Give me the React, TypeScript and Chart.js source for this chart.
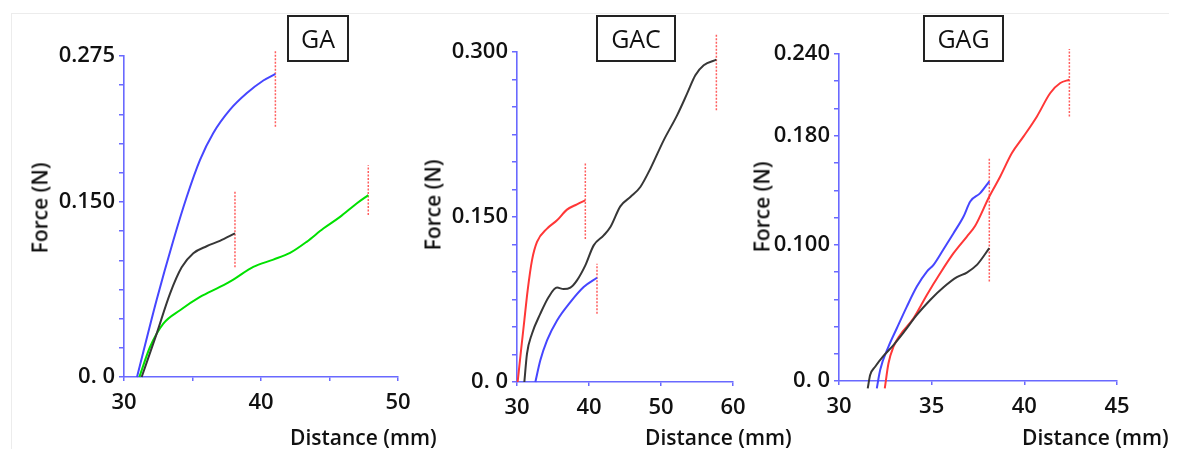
import React, { useEffect, useRef } from "react";
import { Chart, registerables } from "chart.js";
Chart.register(...registerables);

const W = 1178;
const H = 449;
const FONT = "'Open Sans', sans-serif";

// ---------- GA panel data ----------
const GA_BLUE_X = [30.95, 32.38, 33.6, 34.57, 35.55, 36.52, 37.74, 38.95, 40.17, 41.05];
const GA_BLUE_Y = [0, 0.066, 0.117, 0.154, 0.186, 0.209, 0.229, 0.243, 0.254, 0.2596];
const GA_BLACK_X = [31.29, 32.38, 33.36, 34.21, 35.06, 36.03, 37.0, 38.1];
const GA_BLACK_Y = [0, 0.037, 0.0715, 0.094, 0.106, 0.112, 0.1166, 0.123];
const GA_GREEN_X = [31.12, 31.9, 32.87, 34.09, 35.55, 37.0, 37.98, 39.44, 40.9, 42.12, 43.33, 44.55, 45.77, 46.98, 47.83];
const GA_GREEN_Y = [0, 0.0257, 0.0457, 0.0572, 0.0686, 0.0772, 0.0835, 0.0943, 0.1006, 0.1063, 0.1158, 0.1272, 0.1372, 0.1487, 0.1558];
const GA_BREAK_X = [41.05, 38.1, 47.83];
const GA_BREAK_LO = [0.2144, 0.094, 0.1387];
const GA_BREAK_HI = [0.28, 0.16, 0.1815];
const GA_X_LABELS = [30, 40, 50];
const GA_Y_TICKS = [0, 0.15, 0.275];
const GA_Y_TEXT = ["0. 0", "0.150", "0.275"];

// ---------- GAC panel data ----------
const GAC_RED_X = [30.09, 30.56, 31.02, 31.48, 32.08, 32.78, 34.17, 35.56, 36.94, 38.33, 39.49];
const GAC_RED_Y = [0, 0.0288, 0.056, 0.0833, 0.1106, 0.1273, 0.1394, 0.147, 0.1567, 0.1615, 0.1652];
const GAC_BLUE_X = [32.55, 33.24, 34.17, 35.56, 37.41, 39.26, 41.11];
const GAC_BLUE_Y = [0, 0.0197, 0.0379, 0.056, 0.0727, 0.0864, 0.0948];
const GAC_BLACK_X = [31.02, 31.39, 32.08, 33.24, 34.4, 35.56, 36.48, 37.41, 38.33, 39.49, 40.65, 42.04, 42.97, 44.35, 45.74, 47.13, 48.52, 50.37, 52.23, 53.62, 54.77, 55.93, 57.69];
const GAC_BLACK_Y = [0, 0.0258, 0.0439, 0.0621, 0.0773, 0.0858, 0.0845, 0.0858, 0.0924, 0.106, 0.1242, 0.1333, 0.1409, 0.1597, 0.1682, 0.1773, 0.1939, 0.2197, 0.2424, 0.2621, 0.2788, 0.2879, 0.293];
const GAC_BREAK_X = [39.49, 41.11, 57.69];
const GAC_BREAK_LO = [0.13, 0.0621, 0.247];
const GAC_BREAK_HI = [0.2, 0.1076, 0.3167];
const GAC_X_LABELS = [30, 40, 50, 60];
const GAC_Y_TICKS = [0, 0.15, 0.3];
const GAC_Y_TEXT = ["0. 0", "0.150", "0.300"];

// ---------- GAG panel data ----------
const GAG_BLACK_X = [31.55, 31.68, 31.95, 32.4, 32.94, 33.48, 34.2, 34.92, 35.64, 36.36, 36.9, 37.44, 38.11];
const GAG_BLACK_Y = [-0.0054, 0.0044, 0.0105, 0.0184, 0.0264, 0.0355, 0.0485, 0.0595, 0.0688, 0.0762, 0.0796, 0.0852, 0.0975];
const GAG_BLUE_X = [32.04, 32.22, 32.67, 33.12, 33.66, 34.2, 34.74, 35.1, 35.64, 36.18, 36.72, 37.08, 37.62, 38.11];
const GAG_BLUE_Y = [-0.0054, 0.0081, 0.0252, 0.0387, 0.0546, 0.0693, 0.0803, 0.0852, 0.0967, 0.1085, 0.1207, 0.1318, 0.1379, 0.1465];
const GAG_RED_X = [32.47, 32.67, 32.94, 33.3, 34.02, 34.74, 35.46, 36.18, 36.9, 37.35, 38.11, 38.7, 39.33, 39.96, 40.68, 41.4, 41.94, 42.43];
const GAG_RED_Y = [-0.0054, 0.013, 0.0252, 0.0338, 0.046, 0.0632, 0.0791, 0.0938, 0.106, 0.1139, 0.1354, 0.1501, 0.1673, 0.1795, 0.1942, 0.2114, 0.2187, 0.2211];
const GAG_BREAK_X = [38.11, 38.11, 42.43];
const GAG_BREAK_LO = [0.073, 0.1232, 0.1942];
const GAG_BREAK_HI = [0.1232, 0.1636, 0.2437];
const GAG_X_LABELS = [30, 35, 40, 45];
const GAG_Y_TICKS = [0, 0.1, 0.18, 0.24];
const GAG_Y_TEXT = ["0. 0", "0.100", "0.180", "0.240"];

// ---------- styles ----------
const AXIS = "rgb(105,105,255)";
const C_BLUE = "rgb(70,70,255)";
const C_BLACK = "rgb(55,55,55)";
const C_GREEN = "rgb(0,225,0)";
const C_RED = "rgb(255,55,55)";
const C_BREAK = "rgb(255,95,95)";
const YW = 100;
const XH = 40;

type Series = { x: number[]; y: number[]; color: string };
type Panel = {
  area: { left: number; top: number; right: number; bottom: number };
  xMin: number; xMax: number; xStep: number; xLabels: number[];
  yMax: number; yStep: number; yTicks: number[]; yText: string[];
  series: Series[];
  breakX: number[]; breakLo: number[]; breakHi: number[];
};

const PANELS: Panel[] = [
  {
    area: { left: 124, top: 56, right: 398, bottom: 377 },
    xMin: 30, xMax: 50, xStep: 5, xLabels: GA_X_LABELS,
    yMax: 0.275, yStep: 0.025, yTicks: GA_Y_TICKS, yText: GA_Y_TEXT,
    series: [
      { x: GA_BLUE_X, y: GA_BLUE_Y, color: C_BLUE },
      { x: GA_BLACK_X, y: GA_BLACK_Y, color: C_BLACK },
      { x: GA_GREEN_X, y: GA_GREEN_Y, color: C_GREEN },
    ],
    breakX: GA_BREAK_X, breakLo: GA_BREAK_LO, breakHi: GA_BREAK_HI,
  },
  {
    area: { left: 517, top: 52, right: 733, bottom: 382 },
    xMin: 30, xMax: 60, xStep: 10, xLabels: GAC_X_LABELS,
    yMax: 0.3, yStep: 0.025, yTicks: GAC_Y_TICKS, yText: GAC_Y_TEXT,
    series: [
      { x: GAC_RED_X, y: GAC_RED_Y, color: C_RED },
      { x: GAC_BLUE_X, y: GAC_BLUE_Y, color: C_BLUE },
      { x: GAC_BLACK_X, y: GAC_BLACK_Y, color: C_BLACK },
    ],
    breakX: GAC_BREAK_X, breakLo: GAC_BREAK_LO, breakHi: GAC_BREAK_HI,
  },
  {
    area: { left: 839, top: 54, right: 1117, bottom: 381 },
    xMin: 30, xMax: 45, xStep: 5, xLabels: GAG_X_LABELS,
    yMax: 0.24, yStep: 0.02, yTicks: GAG_Y_TICKS, yText: GAG_Y_TEXT,
    series: [
      { x: GAG_BLACK_X, y: GAG_BLACK_Y, color: C_BLACK },
      { x: GAG_BLUE_X, y: GAG_BLUE_Y, color: C_BLUE },
      { x: GAG_RED_X, y: GAG_RED_Y, color: C_RED },
    ],
    breakX: GAG_BREAK_X, breakLo: GAG_BREAK_LO, breakHi: GAG_BREAK_HI,
  },
];

const TITLES = [
  { text: "GA", left: 287, width: 62 },
  { text: "GAC", left: 596, width: 80 },
  { text: "GAG", left: 923, width: 81 },
];
const Y_TITLES = [
  { cx: 40, cy: 208 },
  { cx: 433, cy: 205 },
  { cx: 762, cy: 207 },
];
const X_TITLES = [{ left: 290 }, { left: 645 }, { left: 1022 }];

function buildChart(canvas: HTMLCanvasElement, p: Panel) {
  const datasets: any[] = p.series.map((s) => ({
    data: s.x.map((v, i) => ({ x: v, y: s.y[i] })),
    borderColor: s.color,
    borderWidth: 2,
    pointRadius: 0,
    showLine: true,
    fill: false,
    tension: 0.4,
    cubicInterpolationMode: "monotone",
    clip: false,
  }));
  p.breakX.forEach((bx, i) => {
    datasets.push({
      data: [
        { x: bx, y: p.breakLo[i] },
        { x: bx, y: p.breakHi[i] },
      ],
      borderColor: C_BREAK,
      borderWidth: 1.5,
      borderDash: [2, 1.5],
      pointRadius: 0,
      showLine: true,
      fill: false,
      tension: 0,
      clip: false,
    });
  });
  const a = p.area;
  return new Chart(canvas, {
    type: "scatter",
    data: { datasets },
    options: {
      animation: false,
      responsive: false,
      events: [],
      layout: {
        padding: {
          left: a.left - YW,
          top: a.top,
          right: W - a.right,
          bottom: H - a.bottom - XH,
        },
      },
      plugins: { legend: { display: false }, tooltip: { enabled: false } },
      scales: {
        x: {
          type: "linear",
          min: p.xMin,
          max: p.xMax,
          afterFit: (s: any) => {
            s.height = XH;
            s.paddingLeft = 0;
            s.paddingRight = 0;
            s.paddingTop = 0;
            s.paddingBottom = 0;
          },
          border: { display: true, color: AXIS, width: 1.6 },
          grid: { drawOnChartArea: false, drawTicks: true, tickLength: 4, color: AXIS, lineWidth: 1.5 },
          ticks: {
            stepSize: p.xStep,
            autoSkip: false,
            maxRotation: 0,
            padding: 9,
            color: "#111",
            font: { family: FONT, size: 22, weight: "600" },
            callback: (v: any) => (p.xLabels.some((l) => Math.abs(l - v) < 1e-6) ? String(Math.round(v)) : ""),
          },
        },
        y: {
          type: "linear",
          min: 0,
          max: p.yMax,
          afterFit: (s: any) => {
            s.width = YW;
            s.paddingLeft = 0;
            s.paddingRight = 0;
            s.paddingTop = 0;
            s.paddingBottom = 0;
          },
          border: { display: true, color: AXIS, width: 1.6 },
          grid: { drawOnChartArea: false, drawTicks: true, tickLength: 5, color: AXIS, lineWidth: 1.5 },
          ticks: {
            stepSize: p.yStep,
            autoSkip: false,
            padding: 4,
            color: "#111",
            font: { family: FONT, size: 22, weight: "600" },
            callback: (v: any) => {
              const i = p.yTicks.findIndex((t) => Math.abs(t - v) < 1e-6);
              return i >= 0 ? p.yText[i] : "";
            },
          },
        },
      },
    },
  });
}

function PanelCanvas({ panel }: { panel: Panel }) {
  const ref = useRef<HTMLCanvasElement | null>(null);
  useEffect(() => {
    if (!ref.current) return;
    const c = buildChart(ref.current, panel);
    return () => c.destroy();
  }, [panel]);
  return (
    <canvas
      ref={ref}
      width={W}
      height={H}
      style={{ position: "absolute", left: 0, top: 0, width: W, height: H }}
    />
  );
}

export default function App() {
  return (
    <div
      style={{
        position: "absolute",
        left: 0,
        top: 0,
        width: W,
        height: H,
        background: "#fff",
        overflow: "hidden",
        fontFamily: FONT,
        color: "#111",
      }}
    >
      <div
        style={{
          position: "absolute",
          left: 11,
          top: 13,
          width: 1157,
          height: 460,
          borderTop: "1px solid #ececec",
          borderLeft: "1px solid #ececec",
        }}
      />
      {PANELS.map((p, i) => (
        <PanelCanvas key={i} panel={p} />
      ))}
      {TITLES.map((t, i) => (
        <div
          key={"t" + i}
          style={{
            position: "absolute",
            left: t.left,
            top: 15,
            width: t.width,
            height: 47,
            boxSizing: "border-box",
            border: "2px solid #222",
            display: "flex",
            alignItems: "center",
            justifyContent: "center",
            fontSize: 25,
            fontWeight: 500,
            lineHeight: 1,
          }}
        >
          {t.text}
        </div>
      ))}
      {Y_TITLES.map((t, i) => (
        <div
          key={"y" + i}
          style={{
            position: "absolute",
            left: t.cx,
            top: t.cy,
            transform: "translate(-50%, -50%) rotate(-90deg)",
            whiteSpace: "nowrap",
            fontSize: 21,
            fontWeight: 600,
            lineHeight: 1,
          }}
        >
          Force (N)
        </div>
      ))}
      {X_TITLES.map((t, i) => (
        <div
          key={"x" + i}
          style={{
            position: "absolute",
            left: t.left,
            top: 437,
            transform: "translateY(-50%)",
            whiteSpace: "nowrap",
            fontSize: 21,
            fontWeight: 600,
            lineHeight: 1,
          }}
        >
          Distance (mm)
        </div>
      ))}
    </div>
  );
}
